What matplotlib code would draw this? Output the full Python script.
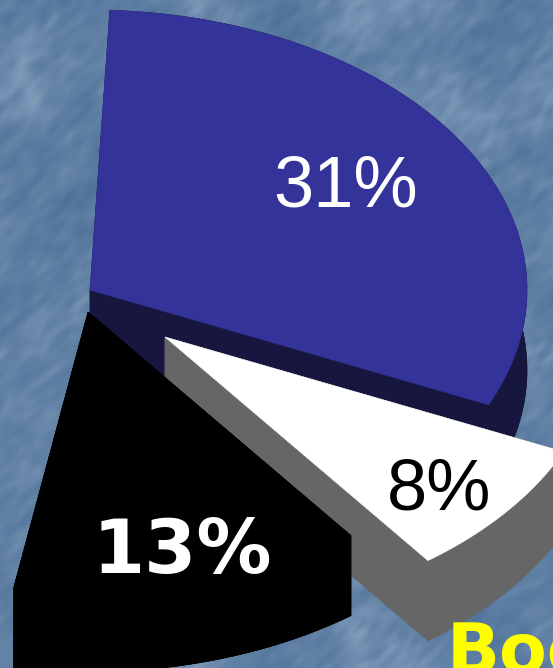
import numpy as np
import matplotlib
matplotlib.use("Agg")
import matplotlib.pyplot as plt
from matplotlib.colors import LinearSegmentedColormap
from matplotlib.patches import Polygon

# Shares of the visible slices, in percent
slice_values = [31, 8, 13]
slice_labels = [f"{v}%" for v in slice_values]
caption = "Boo"

# Appearance of each slice
top_colors = ["#333399", "#ffffff", "#000000"]
side_colors = ["#16163f", "#666666", "#000000"]
label_colors = ["#ffffff", "#000000", "#ffffff"]
label_fonts = ["Liberation Sans", "Liberation Sans", "DejaVu Sans"]
label_weights = ["normal", "normal", "bold"]
label_sizes = [52, 52, 54]
label_xy = [(346, 188), (439, 491), (182, 553)]

# Pie geometry, in canvas pixels
apexes = [(90, 290), (165, 337), (88, 312)]
first_angle = 87.4
semi_x, semi_y = 437, 280
depth = 80

W, H = 553, 668
fig = plt.figure(figsize=(W / 100, H / 100), dpi=100)
ax = fig.add_axes([0, 0, 1, 1])
ax.set_xlim(0, W)
ax.set_ylim(H, 0)
ax.axis("off")

# Mottled blue backdrop with faint streaks rising to the right
rng = np.random.default_rng(7)
noise = rng.standard_normal((H, W))
fy = np.fft.fftfreq(H)[:, None]
fx = np.fft.fftfreq(W)[None, :]
along = (fx - fy) / np.sqrt(2)
across = (fx + fy) / np.sqrt(2)
streaks = np.exp(-(along / 0.035) ** 2 - (across / 0.08) ** 2)
blotches = np.exp(-(fx ** 2 + fy ** 2) / 0.008 ** 2)
fine = np.fft.ifft2(np.fft.fft2(noise) * streaks).real
coarse = np.fft.ifft2(np.fft.fft2(noise) * blotches).real
texture = 0.7 * fine / fine.std() + 0.9 * coarse / coarse.std()
texture = np.clip(texture / 9 + 0.5, 0, 1)
backdrop = LinearSegmentedColormap.from_list("backdrop", ["#4a6c94", "#6181a5", "#86a2be"])
ax.imshow(texture, cmap=backdrop, extent=(0, W, H, 0), aspect="auto", zorder=0)


def outline(apex, start, stop, drop=0):
    """Apex followed by the rim of a flattened pie wedge."""
    t = np.radians(np.linspace(start, stop, 120))
    x = apex[0] + semi_x * np.cos(t)
    y = apex[1] - semi_y * np.sin(t) + drop
    return np.vstack([[apex[0], apex[1] + drop], np.column_stack([x, y])])


def fill(points, color, z):
    ax.add_patch(Polygon(points, closed=True, facecolor=color, edgecolor=color,
                         linewidth=0.4, zorder=z))


angle = first_angle
for i, value in enumerate(slice_values):
    stop = angle - value * 3.6
    top = outline(apexes[i], angle, stop)
    low = outline(apexes[i], angle, stop, depth)
    z = 2 + i
    # Side walls first, covering the sweep between the lower and upper faces
    fill(low, side_colors[i], z)
    fill(np.vstack([top[1:], low[1:][::-1]]), side_colors[i], z)
    fill(np.vstack([top[0], top[1], low[1], low[0]]), side_colors[i], z)
    fill(np.vstack([top[0], top[-1], low[-1], low[0]]), side_colors[i], z)
    fill(top, top_colors[i], z)
    ax.text(*label_xy[i], slice_labels[i], color=label_colors[i], fontsize=label_sizes[i],
            family=label_fonts[i], weight=label_weights[i],
            ha="center", va="center", zorder=10)
    angle = stop

ax.text(447, 673, caption, color="#ffff00", fontsize=50, family="DejaVu Sans",
        weight="bold", ha="left", va="baseline", zorder=11, clip_on=True)

fig.savefig("out.png", dpi=100)
